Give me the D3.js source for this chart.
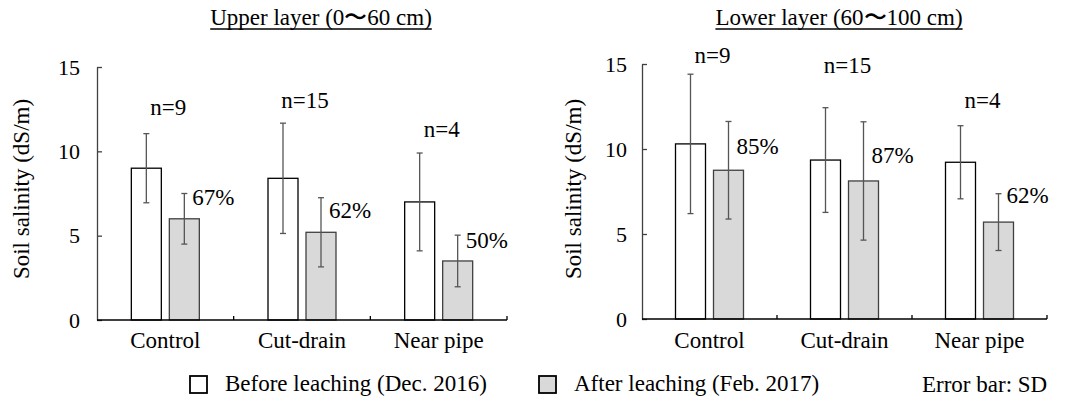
<!DOCTYPE html>
<html>
<head>
<meta charset="utf-8">
<script src="https://cdn.jsdelivr.net/npm/d3@7"></script>
<style>
  body { margin: 0; background: #fff; }
</style>
</head>
<body>
<svg id="chart" width="1065" height="401"></svg>
<script>
// data
const categories = ["Control", "Cut-drain", "Near pipe"];
const yTicks = [0, 5, 10, 15];

const upperBefore = [9.0, 8.4, 7.0];
const upperBeforeSD = [2.05, 3.27, 2.9];
const upperAfter = [6.0, 5.2, 3.5];
const upperAfterSD = [1.5, 2.05, 1.53];
const upperN = ["n=9", "n=15", "n=4"];
const upperPct = ["67%", "62%", "50%"];

const lowerBefore = [10.3, 9.35, 9.22];
const lowerBeforeSD = [4.1, 3.08, 2.15];
const lowerAfter = [8.75, 8.12, 5.7];
const lowerAfterSD = [2.87, 3.48, 1.67];
const lowerN = ["n=9", "n=15", "n=4"];
const lowerPct = ["85%", "87%", "62%"];

// label heights (in y units), as placed in the figure
const upperNAt = [12.15, 12.57, 10.87];
const upperPctAt = [6.82, 6.03, 4.25];
const lowerNAt = [15.04, 14.45, 12.39];
const lowerPctAt = [9.7, 9.19, 6.8];

const FONT = '"Liberation Serif", "Times New Roman", serif';
const svg = d3.select("#chart");

function label(sel, size) {
  return sel.style("font-family", FONT).style("font-size", size + "px").attr("fill", "#000");
}

function drawPanel(opt) {
  const g = svg.append("g");
  const x0 = d3.scaleBand().domain(categories).range([opt.left, opt.right]);
  const x1 = d3.scaleBand().domain(["before", "after"])
    .range([x0.bandwidth() / 2 - 34, x0.bandwidth() / 2 + 34])
    .paddingInner(8 / 38).paddingOuter(0);
  const y = d3.scaleLinear().domain([0, 15]).range([opt.bottom, opt.top]);

  // title with underline
  const t = label(g.append("text"), 23).attr("x", opt.titleX).attr("y", 25)
    .attr("text-anchor", "middle").text(opt.title);
  const tw = t.node().getComputedTextLength();
  g.append("line").attr("x1", opt.titleX - tw / 2).attr("x2", opt.titleX + tw / 2)
    .attr("y1", 29).attr("y2", 29).attr("stroke", "#000").attr("stroke-width", 1.3);

  // y axis
  const yAxis = g.append("g").attr("transform", `translate(${opt.left},0)`)
    .call(d3.axisLeft(y).tickValues(yTicks).tickSizeInner(-5).tickSizeOuter(0).tickPadding(opt.tickPad));
  yAxis.select(".domain").attr("stroke", "#404040").attr("stroke-width", 1.3);
  yAxis.selectAll(".tick line").attr("stroke", "#404040").attr("stroke-width", 1.3);
  label(yAxis.selectAll(".tick text"), 22);

  label(g.append("text"), 23)
    .attr("transform", `translate(${opt.yLabelX},189) rotate(-90)`)
    .attr("text-anchor", "middle")
    .text("Soil salinity (dS/m)");

  const series = [
    { key: "before", vals: opt.before, sd: opt.beforeSD, fill: "#fff", stroke: "#000" },
    { key: "after", vals: opt.after, sd: opt.afterSD, fill: "#d9d9d9", stroke: "#404040" }
  ];

  series.forEach(s => {
    g.selectAll(null).data(categories).join("rect")
      .attr("x", (c) => x0(c) + x1(s.key))
      .attr("y", (c, i) => y(s.vals[i]))
      .attr("width", x1.bandwidth())
      .attr("height", (c, i) => y(0) - y(s.vals[i]))
      .attr("fill", s.fill).attr("stroke", s.stroke).attr("stroke-width", 1.3);
  });

  // error bars
  series.forEach(s => {
    categories.forEach((c, i) => {
      const cx = x0(c) + x1(s.key) + x1.bandwidth() / 2;
      const hi = y(s.vals[i] + s.sd[i]), lo = y(s.vals[i] - s.sd[i]);
      const eb = g.append("g").attr("stroke", "#555").attr("stroke-width", 1.3);
      eb.append("line").attr("x1", cx).attr("x2", cx).attr("y1", hi).attr("y2", lo);
      eb.append("line").attr("x1", cx - 3).attr("x2", cx + 3).attr("y1", hi).attr("y2", hi);
      eb.append("line").attr("x1", cx - 3).attr("x2", cx + 3).attr("y1", lo).attr("y2", lo);
    });
  });

  // x axis
  g.append("line").attr("x1", opt.left).attr("x2", opt.right)
    .attr("y1", y(0)).attr("y2", y(0)).attr("stroke", "#000").attr("stroke-width", 1.3);
  categories.forEach(c => {
    const xe = x0(c) + x0.bandwidth();
    g.append("line").attr("x1", xe).attr("x2", xe).attr("y1", y(0)).attr("y2", y(0) - 4)
      .attr("stroke", "#000").attr("stroke-width", 1.3);
    label(g.append("text"), 23).attr("x", x0(c) + x0.bandwidth() / 2).attr("y", 348)
      .attr("text-anchor", "middle").text(c);
  });

  // n labels and percentage labels
  categories.forEach((c, i) => {
    label(g.append("text"), 23).attr("x", x0(c) + x0.bandwidth() / 2 + 3).attr("y", y(opt.nAt[i]))
      .attr("text-anchor", "middle").text(opt.n[i]);
    label(g.append("text"), 23).attr("x", x0(c) + x1("after") + x1.bandwidth() / 2 + 8).attr("y", y(opt.pctAt[i]))
      .text(opt.pct[i]);
  });
}

drawPanel({
  left: 97, right: 507, top: 67, bottom: 320, tickPad: 17, yLabelX: 29,
  title: "Upper layer (0〜60 cm)", titleX: 321,
  before: upperBefore, beforeSD: upperBeforeSD, after: upperAfter, afterSD: upperAfterSD,
  n: upperN, pct: upperPct, nAt: upperNAt, pctAt: upperPctAt
});

drawPanel({
  left: 642, right: 1047, top: 64, bottom: 319, tickPad: 15, yLabelX: 581,
  title: "Lower layer (60〜100 cm)", titleX: 839,
  before: lowerBefore, beforeSD: lowerBeforeSD, after: lowerAfter, afterSD: lowerAfterSD,
  n: lowerN, pct: lowerPct, nAt: lowerNAt, pctAt: lowerPctAt
});

// legend
const legend = [
  { label: "Before leaching (Dec. 2016)", fill: "#fff", x: 190 },
  { label: "After leaching (Feb. 2017)", fill: "#d9d9d9", x: 539 }
];
legend.forEach(d => {
  svg.append("rect").attr("x", d.x).attr("y", 376).attr("width", 17).attr("height", 17)
    .attr("fill", d.fill).attr("stroke", "#000").attr("stroke-width", 1.8);
  label(svg.append("text"), 23).attr("x", d.x + 35).attr("y", 391).text(d.label);
});
label(svg.append("text"), 23).attr("x", 922).attr("y", 392).text("Error bar: SD");
</script>
</body>
</html>
